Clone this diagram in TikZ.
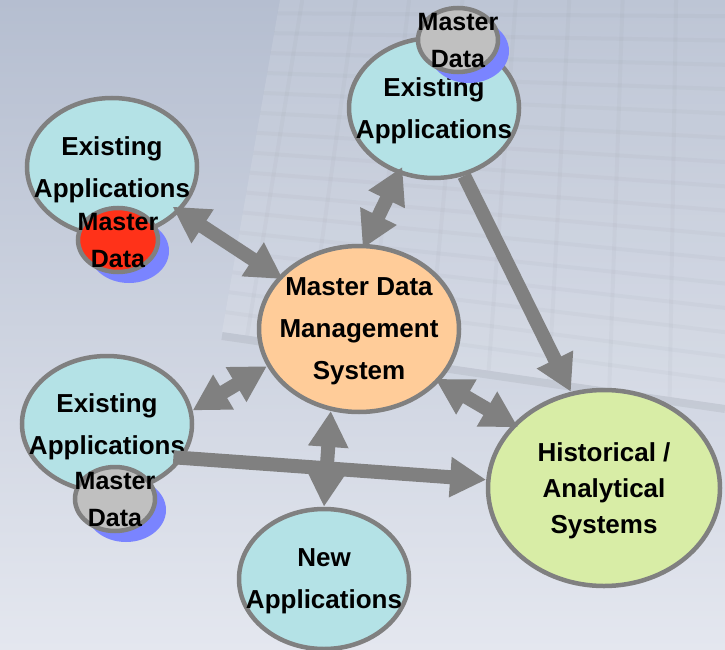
\documentclass[tikz,border=0pt]{standalone}
\usepackage{fontspec}
\setmainfont{Liberation Sans}
\usetikzlibrary{shapes.geometric,arrows.meta,shadows}
\definecolor{bgtop}{RGB}{181,190,208}
\definecolor{bgbottom}{RGB}{228,231,239}
\definecolor{appcyan}{RGB}{180,226,230}
\definecolor{mdmorange}{RGB}{255,204,153}
\definecolor{histgreen}{RGB}{216,237,166}
\definecolor{mdred}{RGB}{255,50,25}
\definecolor{mdgray}{RGB}{192,192,192}
\definecolor{mdblue}{RGB}{122,132,255}
\definecolor{rimgray}{RGB}{128,128,128}
\tikzset{
  bubble/.style={ellipse, draw=rimgray, line width=4.5pt, inner sep=-45pt, align=center,
    text depth=-12pt, font=\bfseries\fontsize{26}{42}\selectfont},
  appbubble/.style={bubble, fill=appcyan, minimum width=170pt, minimum height=138pt},
  mdbubble/.style={bubble, fill=mdgray, minimum width=80pt, minimum height=64pt,
    text depth=-14pt, font=\bfseries\fontsize{25}{37}\selectfont,
    drop shadow={shadow xshift=11pt, shadow yshift=-11pt, fill=mdblue, opacity=1}},
  flow/.style={draw=rimgray, line width=14pt, -{Triangle[width=38pt,length=36pt]}},
  twoway/.style={flow, {Triangle[width=38pt,length=36pt]}-{Triangle[width=38pt,length=36pt]}},
}

\begin{document}
\begin{tikzpicture}[x=1pt,y=-1pt]

  \useasboundingbox (0,0) rectangle (725,650);
  \shade [top color=bgtop, bottom color=bgbottom] (0,0) rectangle (725,650);

  % faint sheet behind the diagram
  \fill [white, opacity=0.12] (280,0) -- (725,0) -- (725,405) -- (222,332) -- cycle;
  \draw [black, opacity=0.06, line width=8pt] (222,336) -- (725,409);
  \foreach \t in {0.04,0.10,...,0.98} {
    \draw [black, opacity=0.02, line width=4pt] ({280-58*\t},{332*\t}) -- (725,{405*\t});
  }
  \foreach \s in {0.05,0.17,...,0.95} {
    \draw [black, opacity=0.02, line width=4pt] ({280+445*\s},0) -- ({222+503*\s},{332+73*\s});
  }

  \node [appbubble] (topleft) at (112,167) {Existing\\Applications};
  \node [appbubble, minimum height=140pt] (topapp) at (434,108) {Existing\\Applications};
  \node [appbubble, minimum height=136pt] (botleft) at (107,424) {Existing\\Applications};
  \node [appbubble, minimum height=140pt] (newapp) at (324,579) {New\\Applications};

  \node [mdbubble, fill=mdred] (mdleft) at (118,240) {Master\\Data};
  \node [mdbubble] (mdtop) at (458,40) {Master\\Data};
  \node [mdbubble] (mdbottom) at (115,499) {Master\\Data};

  \node [bubble, fill=mdmorange, minimum width=200pt, minimum height=166pt] (mdm) at (359,329)
    {Master Data\\Management\\System};
  \node [bubble, fill=histgreen, minimum width=232pt, minimum height=196pt,
    font=\bfseries\fontsize{26}{36}\selectfont] (hist) at (604,488)
    {Historical /\\Analytical\\Systems};

  \draw [twoway, shorten <=-9pt, shorten >=-5pt] (topleft) -- (mdm);
  \draw [twoway, shorten <=-8pt, shorten >=-5pt] (topapp.242) -- (mdm.86);
  \draw [flow] (topapp.294) -- (hist.109);
  \draw [twoway] (botleft.9) -- (mdm.202);
  \draw [twoway, shorten <=-5pt, shorten >=-6pt] (mdm.327) -- (hist.145);
  \draw [flow, shorten <=-10pt] (botleft.336) -- (hist.176);
  \draw [twoway] (mdm.251) -- (newapp.north);

\end{tikzpicture}
\end{document}
